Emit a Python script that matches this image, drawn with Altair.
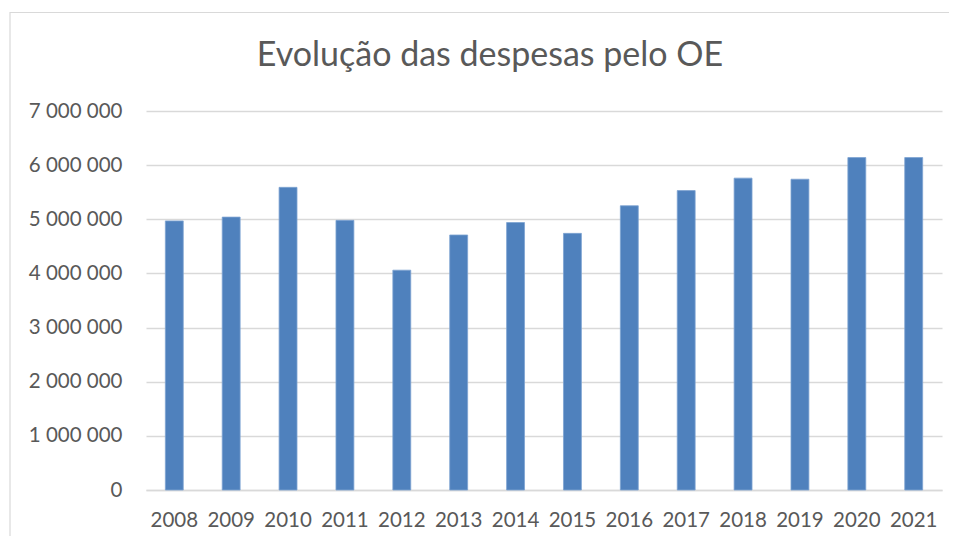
import altair as alt
import pandas as pd

years = ["2008", "2009", "2010", "2011", "2012", "2013", "2014",
         "2015", "2016", "2017", "2018", "2019", "2020", "2021"]
despesas = [4970000, 5040000, 5590000, 4980000, 4060000, 4710000, 4940000,
            4740000, 5250000, 5530000, 5760000, 5740000, 6140000, 6140000]
y_ticks = [0, 1000000, 2000000, 3000000, 4000000, 5000000, 6000000, 7000000]
title_text = "Evolução das despesas pelo OE"

df = pd.DataFrame({"ano": years, "despesa": despesas})

W, H = 796, 379
FONT = "Lato"
GREY = "#595959"

bars = alt.Chart(df).mark_bar(
    color="#4F81BD", stroke="#7EA3D2", strokeWidth=0.8
).encode(
    x=alt.X("ano:N", sort=years,
            scale=alt.Scale(paddingInner=0.685, paddingOuter=0.34),
            axis=alt.Axis(title=None, labelAngle=0, labelFont=FONT, labelFontSize=20.5,
                          labelColor=GREY, ticks=False, labelPadding=20,
                          domainColor="#D9D9D9", domainWidth=1.5)),
    y=alt.Y("despesa:Q",
            scale=alt.Scale(domain=[0, 7000000], nice=False),
            axis=alt.Axis(title=None, values=y_ticks, labelFont=FONT, labelFontSize=20.5,
                          labelColor=GREY, ticks=False, domain=False, labelPadding=24,
                          gridColor="#D9D9D9", gridWidth=1.5,
                          labelExpr="replace(format(datum.value, ',d'), regexp(',', 'g'), ' ')")),
)

one = alt.Data(values=[{"t": title_text}])

border = alt.Chart(one).mark_rect(
    fill=None, stroke="#D9D9D9", strokeWidth=1.2, clip=False
).encode(
    x=alt.value(-136), x2=alt.value(830), y=alt.value(-98.5), y2=alt.value(460)
)

title = alt.Chart(one).mark_text(
    font=FONT, fontSize=34, color=GREY, align="center", baseline="alphabetic"
).encode(
    text="t:N", x=alt.value(344), y=alt.value(-45)
)

chart = alt.layer(border, bars, title).properties(
    width=W, height=H,
    autosize=alt.AutoSizeParams(type="none"),
    padding={"left": 138, "top": 103, "right": 7, "bottom": 46},
).configure(background="white").configure_view(strokeWidth=0)

chart.save("out.html", embed_options={"renderer": "svg", "actions": False})
